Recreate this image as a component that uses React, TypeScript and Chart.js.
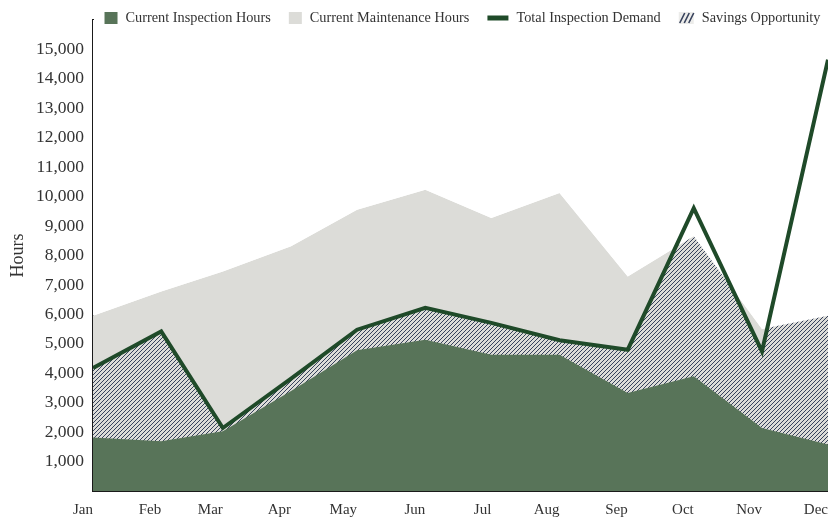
import React, { useEffect, useRef } from 'react';
import { Chart, registerables } from 'chart.js';

Chart.register(...registerables);

// ---------- data ----------
const YEAR = 2023;
const months = ['Jan', 'Feb', 'Mar', 'Apr', 'May', 'Jun', 'Jul', 'Aug', 'Sep', 'Oct', 'Nov', 'Dec'];
const inspectionHours = [1820, 1690, 2030, 3400, 4780, 5140, 4630, 4630, 3330, 3900, 2140, 1580];
const maintenanceHours = [4130, 5090, 5430, 4910, 4770, 5090, 4640, 5490, 3960, 4750, 3360, 4370];
const totalInspectionDemand = [4180, 5420, 2140, 3820, 5480, 6220, 5710, 5120, 4800, 9610, 4740, 14650];
const yTicksShownMax = 15000;
const yAxisMax = 16000;
const yStep = 1000;

const legendLabels = ['Current Inspection Hours', 'Current Maintenance Hours', 'Total Inspection Demand', 'Savings Opportunity'];

// ---------- styles ----------
const GREEN = '#587459';
const GRAY = '#dcdcd8';
const LINE = '#1f4a29';
const HATCH_LINE = '#37425c';
const TEXT = '#333333';
const SERIF = '"Liberation Serif", "Times New Roman", Times, serif';

const dayOfYear = months.map((_, i) => (Date.UTC(YEAR, i, 1) - Date.UTC(YEAR, 0, 1)) / 86400000);
const capacityTop = inspectionHours.map((v, i) => v + maintenanceHours[i]);
const pts = (arr: number[]) => arr.map((y, i) => ({ x: dayOfYear[i], y }));

function makeHatch(): CanvasPattern | string {
  const s = 4;
  const c = document.createElement('canvas');
  c.width = s;
  c.height = s;
  const g = c.getContext('2d');
  if (!g) return GRAY;
  g.fillStyle = GRAY;
  g.fillRect(0, 0, s, s);
  g.strokeStyle = HATCH_LINE;
  g.lineWidth = 1;
  g.beginPath();
  g.moveTo(0, s); g.lineTo(s, 0);
  g.moveTo(-1, 1); g.lineTo(1, -1);
  g.moveTo(s - 1, s + 1); g.lineTo(s + 1, s - 1);
  g.stroke();
  const p = g.createPattern(c, 'repeat');
  return p || GRAY;
}

const customLegend = {
  id: 'customLegend',
  afterDraw(chart: any) {
    const ctx = chart.ctx as CanvasRenderingContext2D;
    const ca = chart.chartArea;
    const kinds = ['box', 'box', 'line', 'hatch'];
    const colors = [GREEN, GRAY, LINE, ''];
    const iconW: Record<string, number> = { box: 13, line: 21, hatch: 15 };
    const gap = 8;
    const itemGap = 18;
    ctx.save();
    ctx.font = `14.3px ${SERIF}`;
    const widths = legendLabels.map((t, i) => iconW[kinds[i]] + gap + ctx.measureText(t).width);
    const total = widths.reduce((a, b) => a + b, 0) + itemGap * (widths.length - 1);
    let x = (ca.left + ca.right) / 2 - total / 2 + 2;
    const cy = 18;
    legendLabels.forEach((t, i) => {
      const k = kinds[i];
      const w = iconW[k];
      if (k === 'box') {
        ctx.fillStyle = colors[i];
        ctx.fillRect(x, cy - 6, w, 12);
      } else if (k === 'line') {
        ctx.strokeStyle = colors[i];
        ctx.lineWidth = 5;
        ctx.beginPath();
        ctx.moveTo(x, cy);
        ctx.lineTo(x + w, cy);
        ctx.stroke();
      } else {
        ctx.fillStyle = '#ececea';
        ctx.fillRect(x, cy - 6, w, 12);
        ctx.strokeStyle = HATCH_LINE;
        ctx.lineWidth = 1.6;
        ctx.beginPath();
        for (let j = 0; j < 3; j++) {
          const ox = x + 1 + j * 4.5;
          ctx.moveTo(ox, cy + 5);
          ctx.lineTo(ox + 5, cy - 5);
        }
        ctx.stroke();
      }
      ctx.fillStyle = TEXT;
      ctx.textAlign = 'left';
      ctx.textBaseline = 'middle';
      ctx.fillText(t, x + w + gap, cy);
      x += widths[i] + itemGap;
    });
    ctx.restore();
  },
};

export default function App() {
  const ref = useRef<HTMLCanvasElement | null>(null);

  useEffect(() => {
    if (!ref.current) return;
    const hatch = makeHatch();
    const chart = new Chart(ref.current, {
      type: 'line',
      data: {
        datasets: [
          {
            label: legendLabels[0],
            data: pts(inspectionHours),
            backgroundColor: GREEN,
            borderWidth: 0,
            pointRadius: 0,
            fill: 'origin',
            order: 2,
          },
          {
            label: legendLabels[1],
            data: pts(capacityTop),
            backgroundColor: GRAY,
            borderWidth: 0,
            pointRadius: 0,
            fill: 'origin',
            order: 6,
          },
          {
            label: legendLabels[3],
            data: pts(totalInspectionDemand),
            backgroundColor: hatch as any,
            borderWidth: 0,
            pointRadius: 0,
            fill: 'origin',
            order: 5,
          },
          {
            label: 'mask',
            data: pts(capacityTop),
            backgroundColor: '#ffffff',
            borderWidth: 0,
            pointRadius: 0,
            fill: 'end',
            order: 4,
          },
          {
            label: legendLabels[2],
            data: pts(totalInspectionDemand),
            borderColor: LINE,
            backgroundColor: LINE,
            borderWidth: 4,
            borderJoinStyle: 'miter',
            pointRadius: 0,
            fill: false,
            order: 1,
          },
        ],
      },
      options: {
        animation: false,
        responsive: true,
        maintainAspectRatio: false,
        layout: { padding: { top: 20, right: 0, left: 0, bottom: 0 } },
        plugins: {
          legend: { display: false },
          tooltip: { enabled: false },
          filler: { propagate: false },
        },
        scales: {
          x: {
            type: 'linear',
            min: dayOfYear[0],
            max: dayOfYear[dayOfYear.length - 1],
            afterBuildTicks: (scale: any) => {
              scale.ticks = dayOfYear.map((v) => ({ value: v }));
            },
            afterFit: (scale: any) => {
              scale.height = 28;
              scale.paddingRight = 0;
              scale.paddingLeft = 0;
            },
            grid: { display: true, drawOnChartArea: false, drawTicks: false },
            border: { display: true, color: '#1a1a1a', width: 2 },
            ticks: {
              autoSkip: false,
              maxRotation: 0,
              align: 'end',
              padding: 10,
              color: TEXT,
              font: { family: SERIF, size: 15 },
              callback: (v: any) => {
                const i = dayOfYear.indexOf(Number(v));
                return i >= 0 ? months[i] : '';
              },
            },
          },
          y: {
            min: 0,
            max: yAxisMax,
            afterFit: (scale: any) => {
              scale.width = 93;
            },
            grid: { display: true, drawOnChartArea: false, drawTicks: false },
            border: { display: true, color: '#1a1a1a', width: 2 },
            title: {
              display: true,
              text: 'Hours',
              color: TEXT,
              font: { family: SERIF, size: 18 },
              padding: { top: 7, bottom: 0 },
            },
            ticks: {
              stepSize: yStep,
              padding: 9,
              color: TEXT,
              font: { family: SERIF, size: 17.5 },
              callback: (v: any) => {
                const n = Number(v);
                if (n <= 0 || n > yTicksShownMax) return '';
                return n.toLocaleString('en-US');
              },
            },
          },
        },
      },
      plugins: [customLegend],
    } as any);
    return () => chart.destroy();
  }, []);

  return (
    <div style={{ position: 'absolute', left: 0, top: 0, width: 828, height: 519, background: '#ffffff' }}>
      <canvas ref={ref} />
    </div>
  );
}
